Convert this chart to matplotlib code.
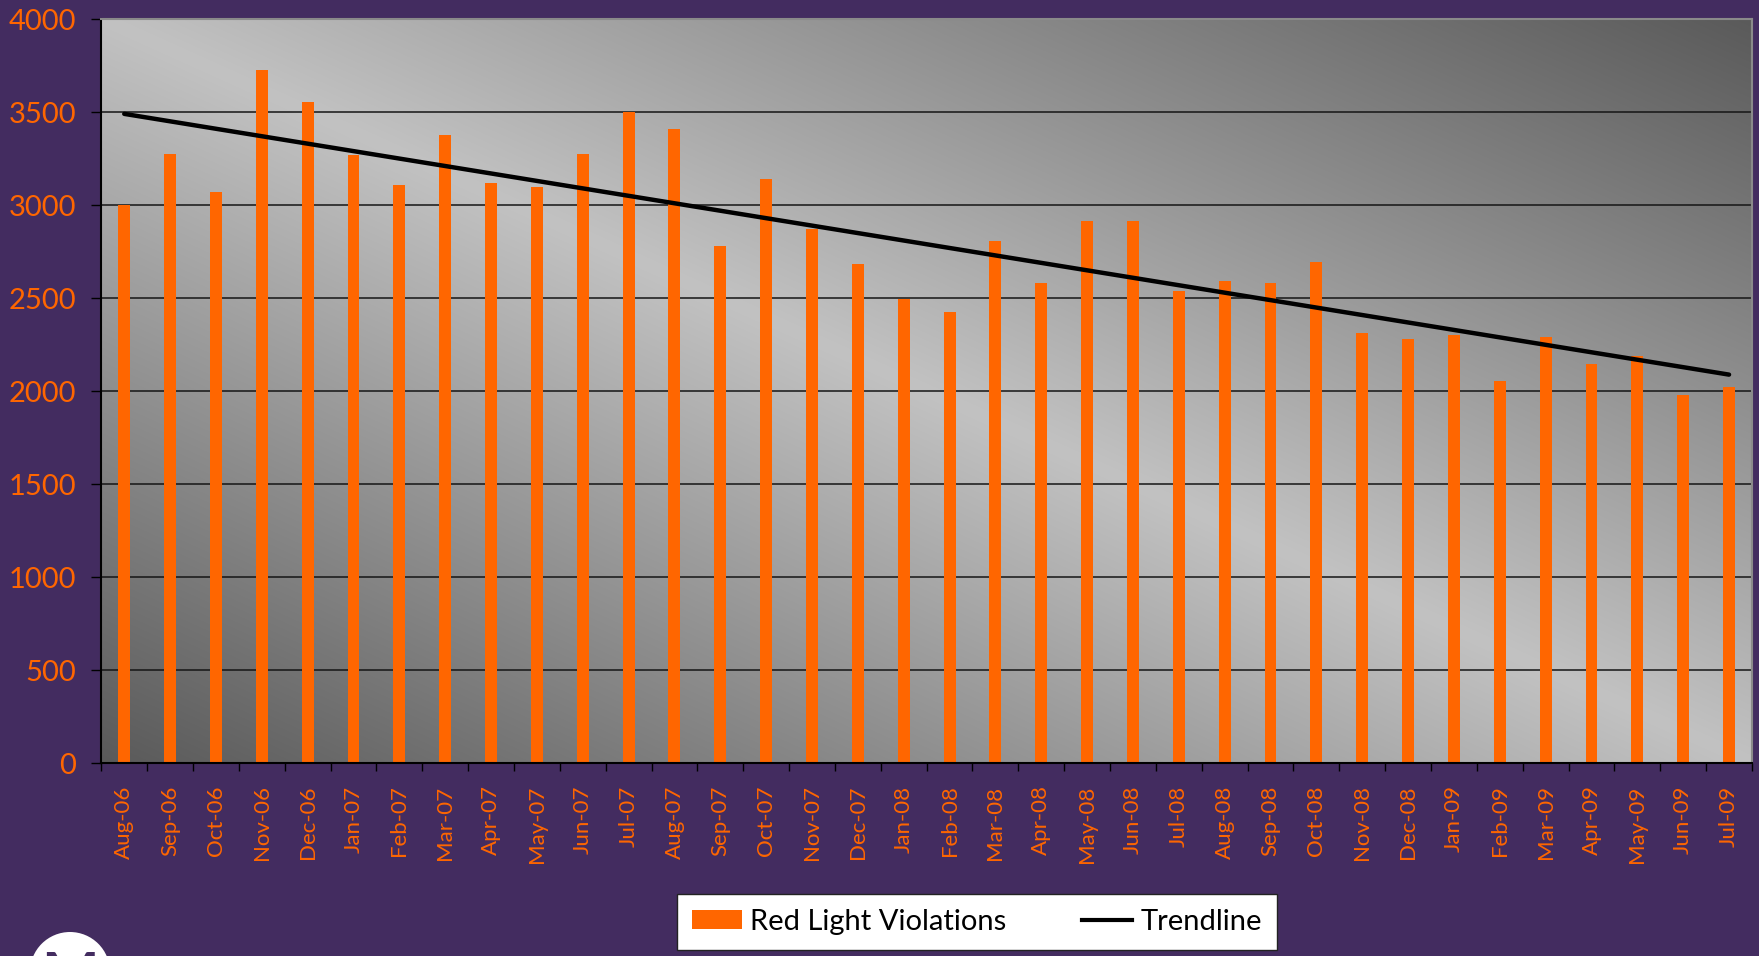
import numpy as np
import matplotlib
matplotlib.use("Agg")
import matplotlib.pyplot as plt
from matplotlib.patches import Circle, Patch
from matplotlib.lines import Line2D
from matplotlib.transforms import IdentityTransform

plt.rcParams['font.family'] = ['Lato', 'DejaVu Sans']

# data
months = ['Aug-06', 'Sep-06', 'Oct-06', 'Nov-06', 'Dec-06', 'Jan-07', 'Feb-07', 'Mar-07',
          'Apr-07', 'May-07', 'Jun-07', 'Jul-07', 'Aug-07', 'Sep-07', 'Oct-07', 'Nov-07',
          'Dec-07', 'Jan-08', 'Feb-08', 'Mar-08', 'Apr-08', 'May-08', 'Jun-08', 'Jul-08',
          'Aug-08', 'Sep-08', 'Oct-08', 'Nov-08', 'Dec-08', 'Jan-09', 'Feb-09', 'Mar-09',
          'Apr-09', 'May-09', 'Jun-09', 'Jul-09']
violations = [3000, 3277, 3073, 3724, 3557, 3267, 3111, 3375,
              3121, 3095, 3277, 3500, 3409, 2783, 3143, 2874,
              2686, 2496, 2428, 2810, 2584, 2917, 2917, 2541,
              2594, 2584, 2697, 2315, 2283, 2304, 2057, 2293,
              2148, 2191, 1981, 2024]
yticks = [0, 500, 1000, 1500, 2000, 2500, 3000, 3500, 4000]

purple = '#432c60'
orange = '#ff6600'

x = np.arange(len(months))
# linear trendline (least squares, as in the original spreadsheet)
coef = np.polyfit(x, violations, 1)
trend = np.polyval(coef, x)

fig = plt.figure(figsize=(17.59, 9.56), dpi=100, facecolor=purple)
ax = fig.add_axes([0.0576, 0.2016, 0.9384, 0.7784])

# diagonal grey gradient background
u, v = np.meshgrid(np.linspace(0, 1, 400), np.linspace(0, 1, 300))
t = np.abs(u + v - 1)
shade = 194 - 104 * t
img = np.dstack([shade, shade, shade]) / 255.0
ax.imshow(img, extent=[0, 1, 0, 1], transform=ax.transAxes, origin='lower',
          aspect='auto', zorder=0, interpolation='bilinear')

for yv in yticks[1:-1]:
    ax.axhline(yv, color='#151515', lw=1.1, zorder=1)

ax.bar(x, violations, width=0.26, color=orange, zorder=2)
ax.plot(x, trend, color='black', lw=3.2, zorder=3, solid_capstyle='round')

ax.set_xlim(-0.5, len(months) - 0.5)
ax.set_ylim(0, 4000)

ax.set_yticks(yticks)
ax.set_yticklabels([str(v) for v in yticks])
ax.tick_params(axis='y', direction='out', length=7, width=1, color='black',
               labelcolor=orange, labelsize=21, pad=11)

ax.set_xticks(np.arange(-0.5, len(months), 1.0))
ax.set_xticklabels([])
ax.tick_params(axis='x', which='major', direction='out', length=6, width=1, color='black')
ax.set_xticks(x, minor=True)
ax.set_xticklabels(months, minor=True, rotation=90)
ax.tick_params(axis='x', which='minor', length=0, labelcolor=orange, labelsize=16, pad=16)

ax.spines['left'].set_color('black')
ax.spines['bottom'].set_color('black')
ax.spines['top'].set_color('#8a8a8a')
ax.spines['right'].set_color('#8a8a8a')
for s in ax.spines.values():
    s.set_linewidth(1.5)

handles = [Patch(facecolor=orange, edgecolor='none'),
           Line2D([0], [0], color='black', lw=3)]
leg = fig.legend(handles, ['Red Light Violations', 'Trendline'], loc='center',
                 bbox_to_anchor=(0.5555, 0.0356), ncol=2, fontsize=21,
                 frameon=True, fancybox=False, edgecolor='#222222', facecolor='white',
                 framealpha=1, handlelength=1.7, handleheight=0.65,
                 handletextpad=0.3, columnspacing=2.6, borderpad=0.5)
leg.get_frame().set_linewidth(1.0)

# logo circle peeking in at the bottom-left corner
fig.add_artist(Circle((70, -16), 40, transform=IdentityTransform(),
                      facecolor='white', edgecolor='none'))
fig.text(70, 6, 'M', transform=IdentityTransform(), ha='center', va='top',
         fontsize=44, fontweight='bold', color=purple)

fig.savefig('out.png', dpi=100, facecolor=purple)
